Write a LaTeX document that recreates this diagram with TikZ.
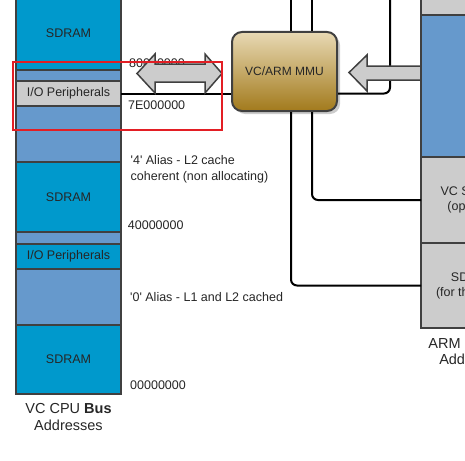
\documentclass[tikz,border=0pt]{standalone}
\usepackage{fontspec}
\setmainfont{Liberation Sans}
\usepackage{tikz}
\usetikzlibrary{positioning,shadows}
\newcommand{\segfont}{\fontsize{12.5}{15}\selectfont}
\newcommand{\addrfont}{\fontsize{12.5}{16}\selectfont}
\newcommand{\titlefont}{\fontsize{14.5}{16.5}\selectfont}
\newcommand{\mapdefinitions}{%
  % color of SDRAM and I/O blocks
  \definecolor{colSD}{HTML}{0099CC}
  % color of alias gaps
  \definecolor{colLB}{HTML}{6699CC}
  % color of peripheral blocks and arrows
  \definecolor{colIO}{HTML}{CCCCCC}
  % color of block borders
  \definecolor{colEdge}{HTML}{404040}
  % colors of the MMU shading
  \definecolor{colMMUtop}{HTML}{E8D9B4}
  \definecolor{colMMUbot}{HTML}{A27A1C}
  % color of the marker frame
  \definecolor{colMark}{HTML}{E31E24}

  % free ends of the MMU buses at the top
  \coordinate (tapA) at (291,-5);
  \coordinate (tapB) at (312,-5);
  \coordinate (armTop) at (390,-5);
}

\begin{document}
\begin{tikzpicture}[x=1pt,y=-1pt,
  seg/.style={draw=colEdge,line width=2pt,minimum width=105pt,inner sep=0pt,
    outer sep=0pt,font=\segfont,text=black!85},
  addr/.style={anchor=west,inner sep=0pt,font=\addrfont,text=black!85},
  wire/.style={line width=2pt,rounded corners=6pt},
  bigarrow/.style={draw=colEdge,line width=1.5pt,fill=colIO,line join=miter}]
  \useasboundingbox (0,0) rectangle (465,460);
  \clip (0,0) rectangle (465,460);

  % define colors and bus ends
  \mapdefinitions

  % VC CPU bus address column, top to bottom
  \node[seg,fill=colSD,minimum height=73pt] (sdA) at (68.5,33.5) {SDRAM};
  \node[seg,fill=colLB,minimum height=11pt] [below=0pt of sdA] (lbA) {};
  \node[seg,fill=colIO,minimum height=25pt] [below=0pt of lbA] (ioA) {I/O Peripherals};
  \node[seg,fill=colLB,minimum height=56pt] [below=0pt of ioA] (lbB) {};
  \node[seg,fill=colSD,minimum height=70pt] [below=0pt of lbB] (sdB) {SDRAM};
  \node[seg,fill=colLB,minimum height=12pt] [below=0pt of sdB] (lbC) {};
  \node[seg,fill=colSD,minimum height=25pt] [below=0pt of lbC] (ioB) {I/O Peripherals};
  \node[seg,fill=colLB,minimum height=56pt] [below=0pt of ioB] (lbD) {};
  \node[seg,fill=colSD,minimum height=69pt] [below=0pt of lbD] (sdC) {SDRAM};

  % add column name
  \node[font=\titlefont,align=center,text=black!85] [below=6pt of sdC] (vcName) {VC CPU \textbf{Bus}\\Addresses};

  % add addresses and alias notes
  \node[addr] (a80) at (129,63) {80000000};
  \node[addr] (a7E) at (128,105) {7E000000};
  \node[addr,align=left] (al4) at (130.5,169) {\textquotesingle4\textquotesingle{} Alias - L2 cache\\coherent (non allocating)};
  \node[addr] (a40) at (127.7,225) {40000000};
  \node[addr] (al0) at (130,297.5) {\textquotesingle0\textquotesingle{} Alias - L1 and L2 cached};
  \node[addr] (a00) at (130,385) {00000000};

  % the MMU
  \node[draw=colEdge,line width=2pt,rounded corners=10pt,
    top color=colMMUtop,bottom color=colMMUbot,
    minimum width=105pt,minimum height=79pt,text=black!85,
    font=\fontsize{12}{14}\selectfont,
    drop shadow={shadow xshift=3pt,shadow yshift=-3pt,fill=black!40,opacity=.5}]
    (mmu) at (284.5,71.5) {VC/ARM MMU};

  % buses of the MMU
  \draw[wire] (ioA.east) -- (ioA.east -| mmu.west);
  \draw[wire] (mmu.east |- ioA.east) -| (armTop);
  \draw[wire] (mmu.north -| tapA) -- (tapA);
  \draw[wire] (mmu.north -| tapB) -- (tapB);

  % mapping arrows
  \draw[bigarrow] (137,73.5) -- (155,54) -- (155,64) -- (205,64) -- (205,54)
    -- (222,73.5) -- (205,93) -- (205,82) -- (155,82) -- (155,93) -- cycle;
  \draw[bigarrow] (349,72.5) -- (367,55) -- (367,66) -- (424,66) -- (424,80)
    -- (367,80) -- (367,91) -- cycle;

  % ARM physical address column, top to bottom
  \node[seg,fill=colIO,minimum height=18pt] (rgA) at (473.5,6) {};
  \node[seg,fill=colLB,minimum height=142pt] [below=0pt of rgA] (rgB) {};
  \node[seg,fill=colIO,minimum height=86pt,align=center] [below=0pt of rgB] (rgC) {VC SDRAM\\(optional)};
  \node[seg,fill=colIO,minimum height=85pt,align=center] [below=0pt of rgC] (rgD) {SDRAM\\(for the ARM)};
  \node[font=\titlefont,align=center,text=black!85] [below=6pt of rgD] (armName) {ARM Physical\\Addresses};

  % buses down to the ARM column
  \draw[wire] (mmu.south -| tapA) |- (rgD.west);
  \draw[wire] (mmu.south -| tapB) |- (rgC.west);

  % marker frame
  \draw[line width=2pt,draw=colMark] (13,62) rectangle (222,130);

\end{tikzpicture}
\end{document}
